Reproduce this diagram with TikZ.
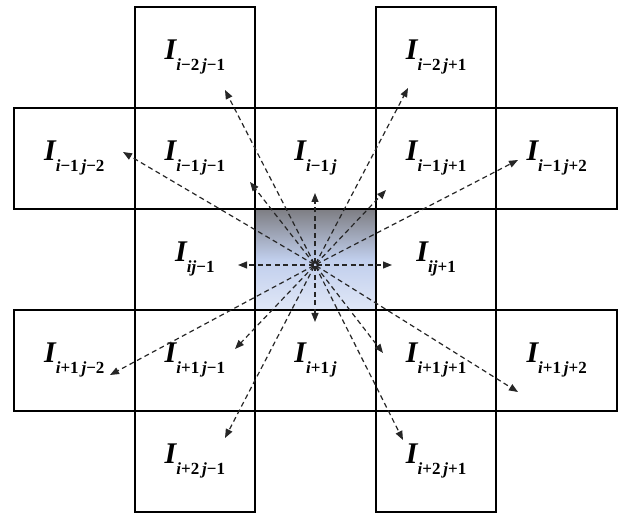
\documentclass[tikz,border=0pt]{standalone}
\usepackage{fontspec}
\setmainfont{Liberation Serif}
\usetikzlibrary{arrows.meta}

% pixel label: bold italic I with a bold subscript
\newcommand{\Ipix}[2]{{\fontsize{30}{30}\selectfont\bfseries\itshape I}\raisebox{-11pt}{\fontsize{17}{17}\selectfont\bfseries{\itshape i}#1{\itshape j}#2}}

\begin{document}
\begin{tikzpicture}[x=1pt, y=-1pt,
    cell/.style={draw, line width=2pt, minimum width=120.6pt, minimum height=100.9pt,
                 inner sep=0pt, align=center},
    ray/.style={-{Triangle[length=9pt, width=7pt]}, dashed, dash pattern=on 5pt off 3.5pt,
                line width=1.2pt, black!85, shorten <=1.5pt},
  ]
  \useasboundingbox (0,0) rectangle (619,513);

  % centre pixel
  \node[cell, top color={rgb,255:red,125;green,125;blue,130},
        bottom color={rgb,255:red,224;green,231;blue,247},
        middle color={rgb,255:red,192;green,206;blue,236}] (r2c2) at (315.5, 259.25) {};

  % neighbours
  \node[cell] (r0c1) at (194.9, 57.45) {\Ipix{−2\,}{−1}};
  \node[cell] (r0c3) at (436.1, 57.45) {\Ipix{−2\,}{+1}};

  \node[cell] (r1c0) at (74.3, 158.35)  {\Ipix{−1\,}{−2}};
  \node[cell] (r1c1) at (194.9, 158.35) {\Ipix{−1\,}{−1}};
  \node[cell] (r1c2) at (315.5, 158.35) {\Ipix{−1\,}{}};
  \node[cell] (r1c3) at (436.1, 158.35) {\Ipix{−1\,}{+1}};
  \node[cell] (r1c4) at (556.7, 158.35) {\Ipix{−1\,}{+2}};

  \node[cell] (r2c1) at (194.9, 259.25) {\Ipix{}{−1}};
  \node[cell] (r2c3) at (436.1, 259.25) {\Ipix{}{+1}};

  \node[cell] (r3c0) at (74.3, 360.15)  {\Ipix{+1\,}{−2}};
  \node[cell] (r3c1) at (194.9, 360.15) {\Ipix{+1\,}{−1}};
  \node[cell] (r3c2) at (315.5, 360.15) {\Ipix{+1\,}{}};
  \node[cell] (r3c3) at (436.1, 360.15) {\Ipix{+1\,}{+1}};
  \node[cell] (r3c4) at (556.7, 360.15) {\Ipix{+1\,}{+2}};

  \node[cell] (r4c1) at (194.9, 461.05) {\Ipix{+2\,}{−1}};
  \node[cell] (r4c3) at (436.1, 461.05) {\Ipix{+2\,}{+1}};

  % ray origin and tips
  \coordinate (src) at (315, 265);
  \coordinate (tipN) at (315, 193);
  \coordinate (tipS) at (315, 322);
  \coordinate (tipW) at (238, 265);
  \coordinate (tipE) at (392, 265);
  \coordinate (tipNW) at (250, 182);
  \coordinate (tipNNW) at (225, 90);
  \coordinate (tipWNW) at (123, 152);
  \coordinate (tipNE) at (386, 190);
  \coordinate (tipNNE) at (408, 88);
  \coordinate (tipENE) at (518, 160);
  \coordinate (tipSW) at (235, 349);
  \coordinate (tipSSW) at (225, 438);
  \coordinate (tipWSW) at (110, 375);
  \coordinate (tipSE) at (383, 353);
  \coordinate (tipSSE) at (403, 440);
  \coordinate (tipESE) at (518, 392);

  \draw[ray] (src) -- (tipN);
  \draw[ray] (src) -- (tipS);
  \draw[ray] (src) -- (tipW);
  \draw[ray] (src) -- (tipE);
  \draw[ray] (src) -- (tipNW);
  \draw[ray] (src) -- (tipNNW);
  \draw[ray] (src) -- (tipWNW);
  \draw[ray] (src) -- (tipNE);
  \draw[ray] (src) -- (tipNNE);
  \draw[ray] (src) -- (tipENE);
  \draw[ray] (src) -- (tipSW);
  \draw[ray] (src) -- (tipSSW);
  \draw[ray] (src) -- (tipWSW);
  \draw[ray] (src) -- (tipSE);
  \draw[ray] (src) -- (tipSSE);
  \draw[ray] (src) -- (tipESE);

\end{tikzpicture}
\end{document}
